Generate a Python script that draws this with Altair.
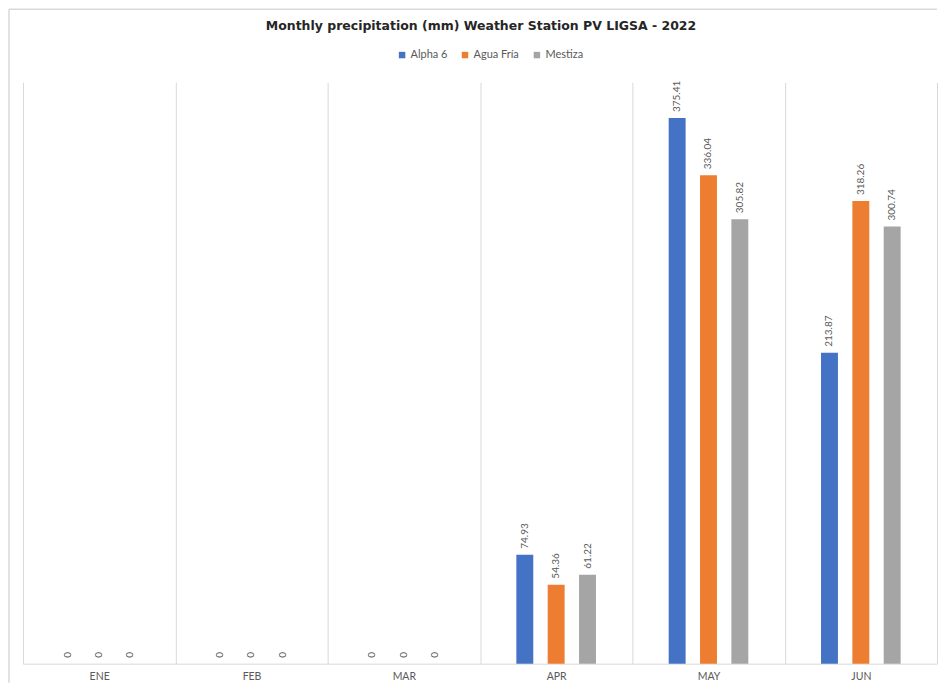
import altair as alt
import pandas as pd

months = ["ENE", "FEB", "MAR", "APR", "MAY", "JUN"]
stations = ["Alpha 6", "Agua Fría", "Mestiza"]
alpha6 = [0, 0, 0, 74.93, 375.41, 213.87]
agua_fria = [0, 0, 0, 54.36, 336.04, 318.26]
mestiza = [0, 0, 0, 61.22, 305.82, 300.74]
colors = ["#4472C4", "#ED7D31", "#A5A5A5"]
title_text = "Monthly precipitation (mm) Weather Station PV LIGSA - 2022"

rows = []
for s, vals in zip(stations, [alpha6, agua_fria, mestiza]):
    for m, v in zip(months, vals):
        rows.append({"month": m, "station": s, "value": v})
df = pd.DataFrame(rows)

W, H = 915, 582
GRID = "#d9d9d9"
TXT = "#595959"
FONT = "Lato"

x = alt.X(
    "month:N", sort=months,
    scale=alt.Scale(paddingInner=0, paddingOuter=0),
    axis=alt.Axis(title=None, tickBand="extent", grid=True, gridColor=GRID,
                  gridWidth=1, ticks=False, domainColor=GRID, domainWidth=1,
                  labelColor=TXT, labelFont=FONT, labelFontSize=10.5,
                  labelPadding=8, labelAngle=0),
)
# empty slots at both ends of each month give the wide outer gap
xoff = alt.XOffset("station:N",
                   scale=alt.Scale(domain=["<"] + stations + [">"],
                                   paddingInner=0.46, paddingOuter=0.16))
y = alt.Y("value:Q", scale=alt.Scale(domain=[0, 400]), axis=None)
color = alt.Color(
    "station:N", sort=stations,
    scale=alt.Scale(domain=stations, range=colors),
    legend=alt.Legend(title=None, orient="none", legendX=374, legendY=-33,
                      direction="horizontal", symbolType="square",
                      symbolSize=42, symbolStrokeWidth=0, labelFont=FONT,
                      labelFontSize=11, labelColor=TXT, columnPadding=12,
                      labelOffset=3, padding=0),
)

base = alt.Chart(df)
bars = base.mark_bar().encode(x=x, xOffset=xoff, y=y, color=color)
labels = base.mark_text(angle=270, align="left", baseline="middle", dx=6,
                        fontSize=10, font=FONT, color=TXT).encode(
    x=x, xOffset=xoff, y=y, text=alt.Text("value:Q"))

title = alt.Chart(pd.DataFrame({"t": [title_text]})).mark_text(
    font="DejaVu Sans", fontWeight="bold", fontSize=12.5, color="#262626",
    align="center", baseline="middle").encode(
    x=alt.value(W / 2 + 1), y=alt.value(-56), text="t:N")

frame_df = pd.DataFrame({"k": [0]})
frame_left = alt.Chart(frame_df).mark_rule(color=GRID, strokeWidth=1.5).encode(
    x=alt.value(-14), y=alt.value(-73), y2=alt.value(H + 19))
frame_top = alt.Chart(frame_df).mark_rule(color=GRID, strokeWidth=1.5).encode(
    x=alt.value(-14), x2=alt.value(W), y=alt.value(-73))

chart = alt.layer(frame_left, frame_top, bars, labels, title).properties(
    width=W, height=H, padding=0, background="white"
).configure_view(stroke=None)

chart.save("out.html", embed_options={"renderer": "svg", "actions": False})
